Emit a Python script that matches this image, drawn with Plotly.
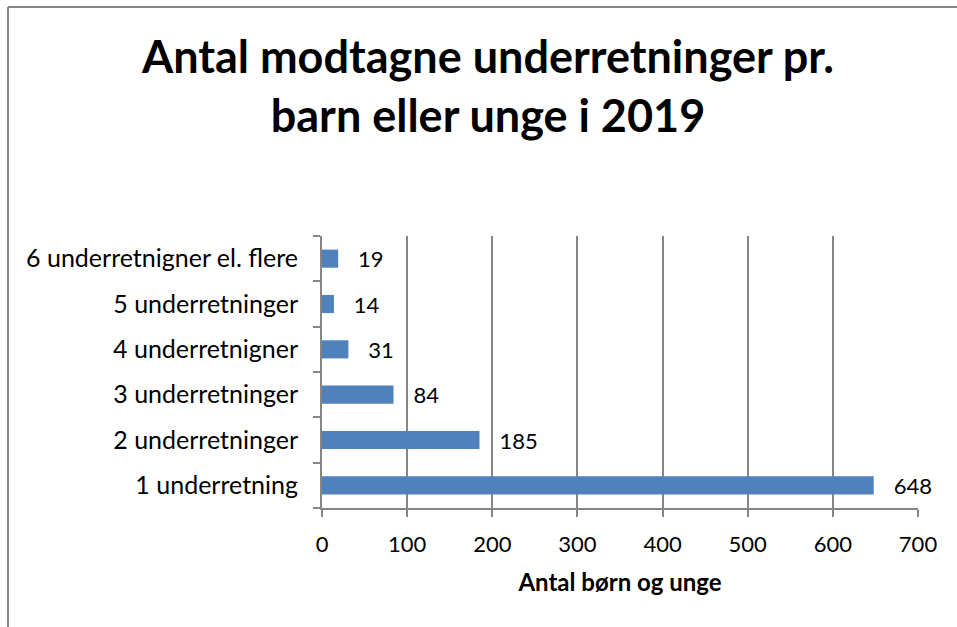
import plotly.graph_objects as go

categories = ["1 underretning", "2 underretninger", "3 underretninger",
              "4 underretnigner", "5 underretninger", "6 underretnigner el. flere"]
values = [648, 185, 84, 31, 14, 19]
x_ticks = [0, 100, 200, 300, 400, 500, 600, 700]

FONT = "Lato"
W, H = 957, 627
ml, mr, mt, mb = 322, 39, 236, 119
pw = W - ml - mr
ph = H - mt - mb

fig = go.Figure()
fig.add_trace(go.Bar(
    x=values, y=categories, orientation="h",
    marker=dict(color="#4f81bd", line=dict(width=0)),
    width=0.4,
    text=values, texttemplate="   %{text}", textposition="outside",
    constraintext="none",
    textfont=dict(family=FONT, size=22, color="black"),
    cliponaxis=False,
))

# outer chart frame (left and top edges visible)
border = dict(color="#868686", width=2)
fx0 = (8 - ml) / pw
fy1 = 1 + (mt - 7) / ph
fig.add_shape(type="line", xref="paper", yref="paper",
              x0=fx0, x1=fx0, y0=-(mb + 10) / ph, y1=fy1, line=border)
fig.add_shape(type="line", xref="paper", yref="paper",
              x0=fx0, x1=(W + 10 - ml) / pw, y0=fy1, y1=fy1, line=border)

fig.update_layout(
    width=W, height=H,
    margin=dict(l=ml, r=mr, t=mt, b=mb, autoexpand=False),
    paper_bgcolor="white", plot_bgcolor="white",
    showlegend=False,
    font=dict(family=FONT, size=22, color="black"),
    title=dict(text="<b>Antal modtagne underretninger pr.<br>barn eller unge i 2019</b>",
               x=488 / W, xanchor="center", y=1 - 73 / H, yanchor="top",
               font=dict(family=FONT, size=45, color="black")),
    xaxis=dict(range=[0, 700], tickvals=x_ticks, showgrid=True, gridcolor="#868686", gridwidth=1.5,
               showline=True, linecolor="#868686", linewidth=2, ticks="outside", ticklen=7,
               tickcolor="#868686", tickwidth=2, zeroline=False,
               tickfont=dict(family=FONT, size=22), ticklabelstandoff=9,
               title=dict(text="<b>Antal børn og unge</b>", font=dict(family=FONT, size=24), standoff=18)),
    yaxis=dict(type="category", categoryorder="array", categoryarray=categories,
               showline=True, linecolor="#868686", linewidth=2, ticks="outside", ticklen=7,
               tickcolor="#868686", tickwidth=2, tickson="boundaries", showgrid=False,
               tickfont=dict(family=FONT, size=25), ticklabelstandoff=17),
)

fig.write_html("out.html", config={"displayModeBar": False},
               post_script="document.body.style.margin='0';document.body.style.overflow='hidden';")
